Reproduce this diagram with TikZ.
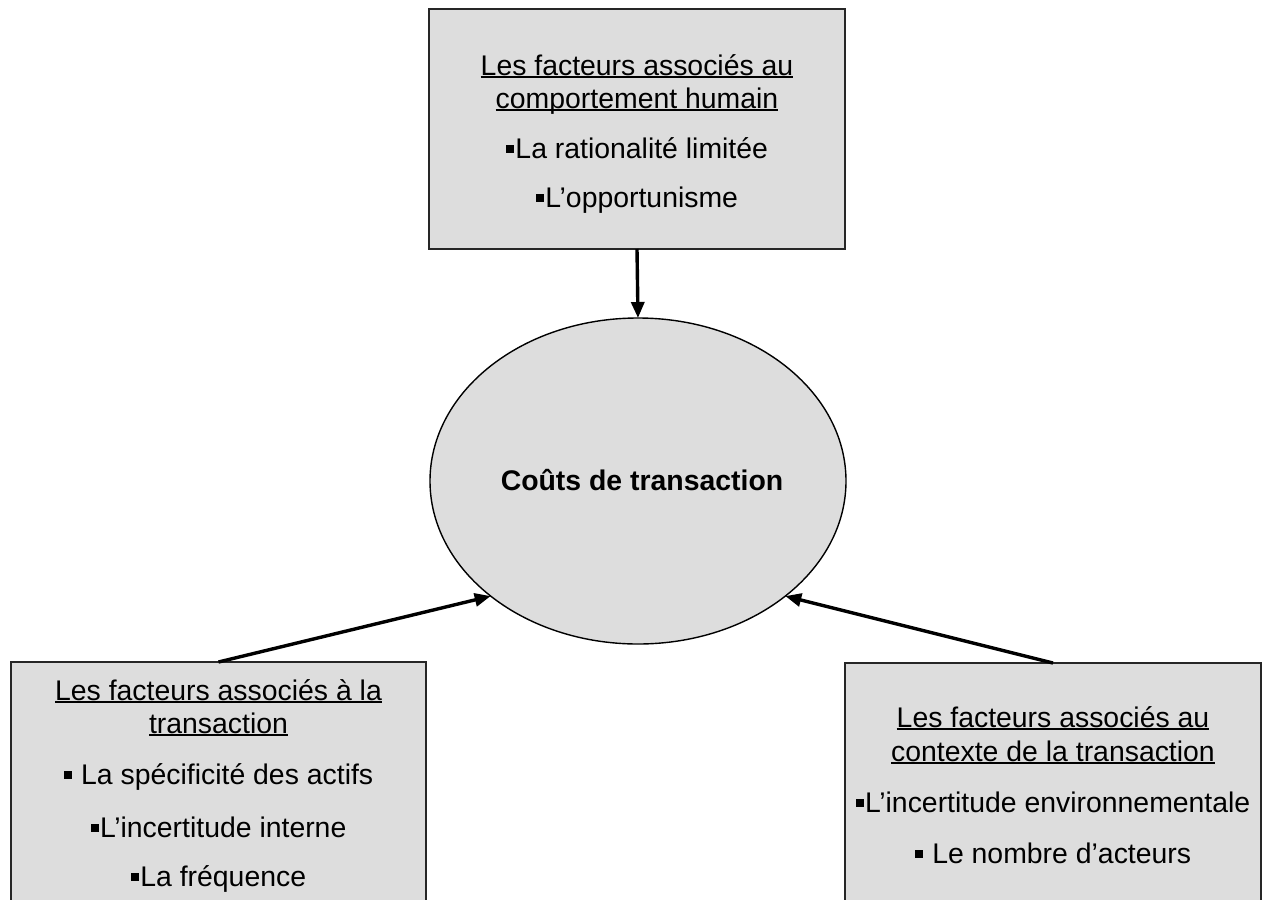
\documentclass[tikz,border=0pt]{standalone}
\usepackage{fontspec}
\setmainfont{Liberation Sans}
\usetikzlibrary{shapes.geometric,arrows.meta}
\definecolor{boxgray}{RGB}{221,221,221}
\newlength\ulwidth
\newcommand\ulin[1]{\settowidth\ulwidth{#1}\rlap{\rule[-3pt]{\ulwidth}{2pt}}#1}
% square list bullet
\newcommand\sqbul{\rule[5pt]{8pt}{8pt}\hspace{1.5pt}}

\begin{document}
\begin{tikzpicture}[x=1pt,y=-1pt,
  factbox/.style={rectangle,draw=black!85,line width=1.5pt,fill=boxgray,
    inner sep=0pt,outer sep=0pt,anchor=north west,minimum width=416pt},
  costell/.style={ellipse,draw=black,line width=1.4pt,fill=boxgray,
    inner sep=0pt,outer sep=0pt,minimum width=416pt,minimum height=326pt},
  txtline/.style={anchor=base,inner sep=0pt,font=\fontsize{28.4}{33}\selectfont},
  link/.style={line width=3.4pt,draw=black,-{Triangle[length=16pt,width=13pt]}}]

\useasboundingbox (0,0) rectangle (1262,900);
\clip (0,0) rectangle (1262,900);

% factor boxes
\node[factbox,minimum height=240pt] (hum) at (429,9) {};
\node[factbox,minimum width=415pt,minimum height=300pt] (trans) at (11,662) {};
\node[factbox,minimum height=300pt] (ctx) at (845,663) {};

% central ellipse
\node[costell] (cost) at (638,481) {};
\node[txtline,font=\fontsize{28.4}{33}\selectfont\bfseries] (costtxt) at (642,490) {Coûts de transaction};

% human behaviour factors
\node[txtline] (hum1) at (637,75) {\ulin{Les facteurs associés au}};
\node[txtline] (hum2) at (637,108) {\ulin{comportement humain}};
\node[txtline] (hum3) at (637,158) {\sqbul La rationalité limitée};
\node[txtline] (hum4) at (637,207) {\sqbul L’opportunisme};

% transaction factors
\node[txtline] (trans1) at (218.5,700) {\ulin{Les facteurs associés à la}};
\node[txtline] (trans2) at (218.5,733) {\ulin{transaction}};
\node[txtline] (trans3) at (218.5,784) {\sqbul\ La spécificité des actifs};
\node[txtline] (trans4) at (218.5,837) {\sqbul L’incertitude interne};
\node[txtline] (trans5) at (218.5,886) {\sqbul La fréquence};

% context factors
\node[txtline] (ctx1) at (1053,727) {\ulin{Les facteurs associés au}};
\node[txtline] (ctx2) at (1053,761) {\ulin{contexte de la transaction}};
\node[txtline] (ctx3) at (1053,812) {\sqbul L’incertitude environnementale};
\node[txtline] (ctx4) at (1053,863) {\sqbul\ Le nombre d’acteurs};

% influences on transaction costs
\draw[link] (hum.south) -- (cost.north);
\draw[link] (trans.north) -- (cost.218);
\draw[link] (ctx.north) -- (cost.322);
\end{tikzpicture}
\end{document}
